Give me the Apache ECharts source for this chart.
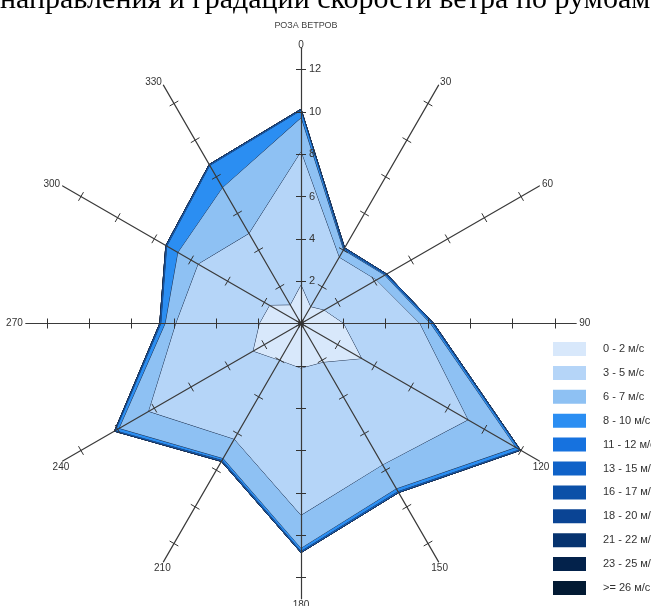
<!DOCTYPE html>
<html><head><meta charset="utf-8">
<script src="https://cdn.jsdelivr.net/npm/echarts@6/dist/echarts.min.js"></script>
<style>html,body{margin:0;padding:0;background:#fff}#c{width:651px;height:606px}</style>
</head><body><div id="c"></div>
<script>
// Directions (degrees, clockwise from north)
const directions = ['0','30','60','90','120','150','180','210','240','270','300','330'];
// Speed classes (legend)
const speedClasses = ['0 - 2 м/с','3 - 5 м/с','6 - 7 м/с','8 - 10 м/с','11 - 12 м/с','13 - 15 м/с','16 - 17 м/с','18 - 20 м/с','21 - 22 м/с','23 - 25 м/с','>= 26 м/с'];
// Frequency (%) of each speed class per direction
const f_0_2   = [1.8, 0.9, 1.25, 2.0, 3.3, 2.1, 2.1, 2.0, 2.6, 1.95, 1.7, 1.0];
const f_3_5   = [6.3, 2.7, 2.85, 3.6, 5.8, 5.6, 6.95, 4.3, 5.7, 3.95, 3.9, 3.9];
const f_6_7   = [1.6, 0.4, 0.45, 0.5, 2.6, 1.3, 1.55, 1.05, 1.6, 0.5, 1.1, 2.5];
const f_8_10  = [0.35, 0.05, 0.05, 0.1, 0.2, 0.15, 0.15, 0.1, 0.2, 0.2, 0.6, 1.2];
const f_11_12 = [0.05, 0.05, 0.05, 0.05, 0.05, 0.05, 0.05, 0.05, 0.05, 0.05, 0.05, 0.05];
const f_13_15 = [0.02, 0.02, 0.02, 0.02, 0.02, 0.02, 0.02, 0.02, 0.02, 0.02, 0.02, 0.02];
const f_16_17 = [0,0,0,0,0,0,0,0,0,0,0,0];
const f_18_20 = [0,0,0,0,0,0,0,0,0,0,0,0];
const f_21_22 = [0,0,0,0,0,0,0,0,0,0,0,0];
const f_23_25 = [0,0,0,0,0,0,0,0,0,0,0,0];
const f_26    = [0,0,0,0,0,0,0,0,0,0,0,0];
// Radial axis tick values
const radialMax = 12;
const radialStep = 2;
const axisLength = 13;
// Directions labelled below the axis end
const lowerDirections = ['120','150','180','210','240'];

const classData = [f_0_2,f_3_5,f_6_7,f_8_10,f_11_12,f_13_15,f_16_17,f_18_20,f_21_22,f_23_25,f_26];
const colors = ['#d8e8fb','#b5d5f8','#8ec1f3','#2b8ef2','#1672df','#0f62c8','#0b50a8','#0a4494','#06336f','#03224b','#021a33'];

// radar draws counter-clockwise: reorder so directions run clockwise
const order = [0,11,10,9,8,7,6,5,4,3,2,1];
const reorder = arr => order.map(i => arr[i]);

// cumulative stacking
const cum = [];
let run = directions.map(() => 0);
classData.forEach(arr => { run = run.map((v, i) => v + arr[i]); cum.push(run.slice()); });

const series = [];
for (let k = classData.length - 1; k >= 0; k--) {
  series.push({
    type: 'radar', radarIndex: 0, name: speedClasses[k], z: 1,
    symbol: 'none', silent: true,
    lineStyle: { color: '#1a2d4c', width: 1 },
    itemStyle: { color: colors[k] },
    areaStyle: { color: colors[k], opacity: 1 },
    data: [{ value: reorder(cum[k]), name: speedClasses[k] }]
  });
}

const center = [301, 323.5];
const unitPx = 21.17;
const tickStyle = { color: '#333', width: 1 };
const indNoName = reorder(directions).map(d => ({ name: d, min: 0, max: radialMax }));
const indWithLabel = reorder(directions).map(d => d === '0'
  ? { name: d, min: 0, max: radialMax, axisLabel: { show: true, color: '#333', fontSize: 11, fontFamily: 'Liberation Sans, Arial', margin: -8, align: 'left', formatter: v => (v === 0 ? '' : v) } }
  : { name: d, min: 0, max: radialMax });

const baseRadar = {
  center: center, radius: radialMax * unitPx, startAngle: 90, splitNumber: radialMax / radialStep,
  shape: 'polygon', z: 3,
  axisName: { show: false },
  axisLine: { show: false },
  splitLine: { show: false },
  splitArea: { show: false },
  axisLabel: { show: false }
};
const nameFont = { color: '#333', fontSize: 10, fontFamily: 'Liberation Sans, Arial' };

const option = {
  backgroundColor: '#fff',
  animation: false,
  title: {
    text: 'РОЗА ВЕТРОВ', left: 301, top: 16, textAlign: 'center',
    textStyle: { fontSize: 9, fontWeight: 'normal', color: '#444', fontFamily: 'Liberation Sans, Arial' }
  },
  graphic: [{
    type: 'text', left: 0, top: -15, z: 10,
    style: { text: 'направления и градации скорости ветра по румбам', font: '30px "Liberation Serif", "Times New Roman", serif', fill: '#000' }
  }],
  legend: {
    orient: 'vertical', left: 548, top: 337, icon: 'rect',
    itemWidth: 33, itemHeight: 14, itemGap: 9.9, selectedMode: false,
    textStyle: { color: '#333', fontSize: 11, fontFamily: 'Liberation Sans Narrow, Liberation Sans, Arial', padding: [0, 0, 0, 12] },
    data: speedClasses.map((n, i) => ({ name: n, itemStyle: { color: colors[i], borderWidth: 0 } }))
  },
  radar: [
    Object.assign({}, baseRadar, {
      indicator: indWithLabel,
      axisTick: { show: true, length: 5, lineStyle: tickStyle }
    }),
    Object.assign({}, baseRadar, {
      indicator: indNoName,
      axisTick: { show: true, length: -5, lineStyle: tickStyle }
    }),
    Object.assign({}, baseRadar, {
      indicator: reorder(directions).map(d => ({ name: lowerDirections.includes(d) ? '' : d, min: 0, max: axisLength })),
      radius: axisLength * unitPx,
      axisName: Object.assign({ show: true, verticalAlign: 'middle' }, nameFont),
      nameGap: 3,
      axisLine: { show: true, lineStyle: { color: '#3a3a3a', width: 1.2 } },
      axisTick: { show: false }
    }),
    Object.assign({}, baseRadar, {
      indicator: reorder(directions).map(d => ({ name: lowerDirections.includes(d) ? d : '', min: 0, max: axisLength })),
      radius: axisLength * unitPx,
      axisName: Object.assign({ show: true, align: 'center', verticalAlign: 'top' }, nameFont),
      nameGap: 2,
      axisTick: { show: false }
    })
  ],
  series: series
};
const chart = echarts.init(document.getElementById('c'), null, { renderer: 'canvas' });
chart.setOption(option);
</script></body></html>
